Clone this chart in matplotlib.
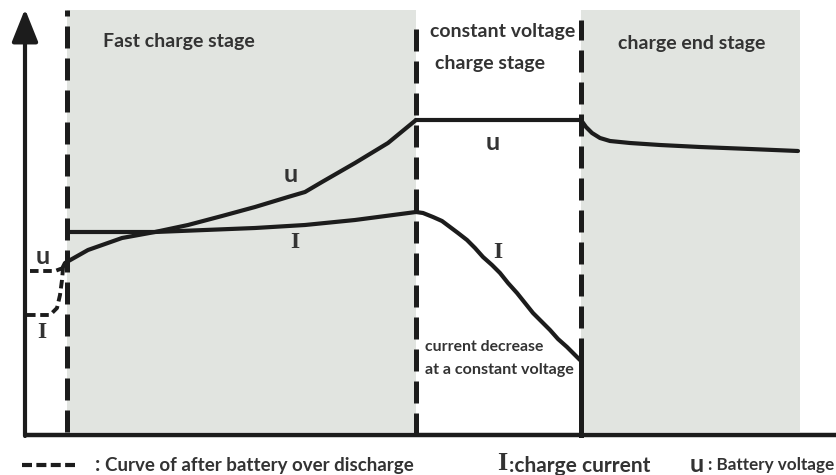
import matplotlib.pyplot as plt
import numpy as np

# time along the x axis (arbitrary units), value above the x axis (arbitrary units)
stage_bounds = [42, 391, 556, 775]
stage_names = ["Fast charge stage", "constant voltage", "charge stage", "charge end stage"]

# battery voltage u
u_fast_t = [38, 40, 63, 97, 130, 163, 197, 230, 263, 280, 297, 330, 363, 391]
u_fast_v = [168, 172, 185, 197, 203, 210, 219, 228, 238, 243, 253, 272, 292, 315]
u_cv_t = [391, 556]
u_cv_v = [315, 315]
u_end_t = [556, 561, 567, 575, 585, 605, 635, 675, 725, 773]
u_end_v = [315, 308, 302, 297, 294, 292, 290, 288, 286, 284]

# charge current I
i_fast_t = [42, 130, 230, 280, 330, 391]
i_fast_v = [203, 203, 207, 210, 215, 223]
i_cv_t = [391, 398, 408, 417, 425, 433, 442, 450, 458, 467, 475, 483, 492, 500, 508, 517, 525, 533, 542, 548, 555]
i_cv_v = [223, 222, 218, 214, 208, 202, 195, 187, 178, 170, 162, 152, 142, 132, 122, 113, 105, 96, 88, 82, 75]

# curves after battery over discharge
u_od_t = [5, 30, 38]
u_od_v = [164, 164, 167]
i_od_t = [2, 25, 32, 35, 37, 38]
i_od_v = [120, 120, 127, 140, 155, 167]

ink = "#1c1c1c"
txt = "#333333"
shade = "#e1e4e0"
font = "Lato"

fig = plt.figure(figsize=(8.37, 4.75), dpi=100)
ax = fig.add_axes([0, 0, 1, 1])
ax.set_xlim(-25, 812)
ax.set_ylim(-40, 435)
ax.axis("off")

# shaded stages
ax.fill_between([stage_bounds[0], stage_bounds[1]], 3, 425, color=shade, lw=0, zorder=0)
ax.fill_between([stage_bounds[2], stage_bounds[3]], 3, 425, color=shade, lw=0, zorder=0)

# stage boundaries
dash = (0, (4.4, 2.0))
ax.plot([stage_bounds[0]] * 2, [3, 425], color=ink, lw=3.6, ls=dash)
ax.plot([stage_bounds[1]] * 2, [0, 415], color=ink, lw=3.6, ls=dash)
ax.plot([stage_bounds[2]] * 2, [75, 415], color=ink, lw=3.6, ls=dash)
ax.plot([stage_bounds[2]] * 2, [0, i_cv_v[-1]], color=ink, lw=3.6)

# axes
ax.plot([0, 812], [0, 0], color=ink, lw=3.2, solid_capstyle="butt")
ax.annotate("", xy=(0, 426), xytext=(0, -1),
            arrowprops=dict(arrowstyle="-|>,head_length=1.0,head_width=0.4",
                            mutation_scale=20, lw=3, color=ink, shrinkA=0, shrinkB=0))

# curves
lw = 3.0
for t, v in [(u_fast_t, u_fast_v), (u_cv_t, u_cv_v), (u_end_t, u_end_v),
             (i_fast_t, i_fast_v), (i_cv_t, i_cv_v)]:
    ax.plot(t, v, color=ink, lw=lw, solid_joinstyle="round", solid_capstyle="round")
ax.plot(u_od_t, u_od_v, color=ink, lw=2.8, ls=(0, (2.2, 1.2)))
ax.plot(i_od_t, i_od_v, color=ink, lw=2.8, ls=(0, (2.2, 1.2)))

# stage names
ax.text(78, 393, stage_names[0], fontsize=14, family=font, weight="bold", color=txt, va="center")
ax.text(405, 403, stage_names[1], fontsize=14, family=font, weight="bold", color=txt, va="center")
ax.text(410, 372, stage_names[2], fontsize=14, family=font, weight="bold", color=txt, va="center")
ax.text(593, 392, stage_names[3], fontsize=14, family=font, weight="bold", color=txt, va="center")
ax.text(400, 88, "current decrease", fontsize=11.3, family=font, weight="bold", color=txt, va="center")
ax.text(400, 65, "at a constant voltage", fontsize=11.6, family=font, weight="bold", color=txt, va="center")

# curve labels
for x, y in [(266, 261), (468, 292), (18, 178)]:
    ax.text(x, y, "u", fontsize=18, family=font, weight="bold", color=txt, ha="center", va="center")
for x, y in [(270, 193), (473, 183), (17, 103)]:
    ax.text(x, y, "I", fontsize=17, family="Liberation Serif", weight="bold", color=txt, ha="center", va="center")

# key below the chart
ax.plot([-3, 50], [-30, -30], color=ink, lw=3, ls=(0, (2.4, 1.05)))
ax.text(70, -30, ":", fontsize=15, family=font, weight="bold", color=txt, va="center")
ax.text(80, -30, "Curve of after battery over discharge", fontsize=13.5, family=font, weight="bold", color=txt, va="center")
ax.text(477, -29, "I", fontsize=19, family="Liberation Serif", weight="bold", color=txt, ha="center", va="center")
ax.text(484, -31, ":charge current", fontsize=15, family=font, weight="bold", color=txt, va="center")
ax.text(672, -30, "u", fontsize=18, family=font, weight="bold", color=txt, ha="center", va="center")
ax.text(683, -30, ": Battery voltage", fontsize=12.3, family=font, weight="bold", color=txt, va="center")

fig.savefig("out.png", dpi=100)
